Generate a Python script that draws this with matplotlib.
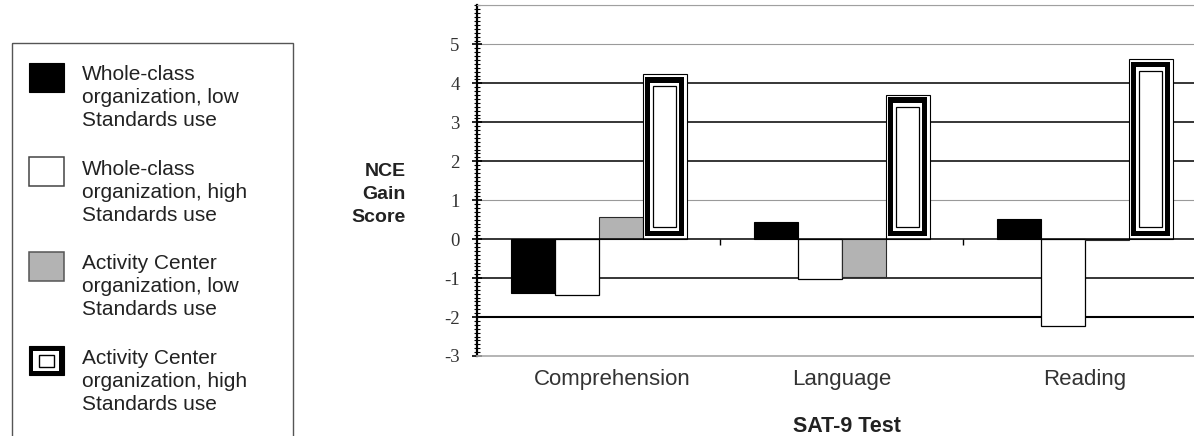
import numpy as np
import matplotlib
matplotlib.use("Agg")
import matplotlib.pyplot as plt
from matplotlib.patches import Rectangle
from matplotlib.transforms import Affine2D
from matplotlib.ticker import MultipleLocator

# ---------------- data ----------------
categories = ["Comprehension", "Language", "Reading"]
series_labels = [
    "Whole-class\norganization, low\nStandards use",
    "Whole-class\norganization, high\nStandards use",
    "Activity Center\norganization, low\nStandards use",
    "Activity Center\norganization, high\nStandards use",
]
wc_low = [-1.38, 0.43, 0.53]
wc_high = [-1.43, -1.03, -2.23]
ac_low = [0.57, -0.97, -0.03]
ac_high = [4.23, 3.71, 4.63]
y_ticks = [-3, -2, -1, 0, 1, 2, 3, 4, 5]
y_tick_labels = ["-3", "-2", "-1", "0", "1", "2", "3", "4", "5"]
grid_dark = [4, 3, 2, -1, -2]
grid_light = [6, 5, 1]

# ---------------- layout ----------------
plt.rcParams["font.family"] = ["Liberation Sans", "DejaVu Sans"]
W, H = 1194, 436
fig = plt.figure(figsize=(W / 100, H / 100), dpi=100)
ax_l, ax_r, ax_t, ax_b = 477, 1194, 5.5, 356
ax = fig.add_axes([ax_l / W, (H - ax_b) / H, (ax_r - ax_l) / W, (ax_b - ax_t) / H])
xlim = (-0.5, 2.45)
ylim = (-3, 6)
ax.set_xlim(*xlim)
ax.set_ylim(*ylim)
px_x = (xlim[1] - xlim[0]) / (ax_r - ax_l)
px_y = (ylim[1] - ylim[0]) / (ax_b - ax_t)

# grid lines
for lv in grid_light:
    ax.axhline(lv, color="#9a9a9a", lw=0.8, zorder=1)
for lv in grid_dark:
    ax.axhline(lv, color="black", lw=1.5 if lv == -2 else 1.1, zorder=1)

# bars
x = np.arange(len(categories))
bw = 0.181
offs = [-1.5, -0.5, 0.5, 1.5]
ax.bar(x + offs[0] * bw, wc_low, bw, color="black", edgecolor="black", lw=0.8, zorder=3)
ax.bar(x + offs[1] * bw, wc_high, bw, color="white", edgecolor="black", lw=0.9, zorder=3)
ax.bar(x + offs[2] * bw, ac_low, bw, color="#b3b3b3", edgecolor="#2a2a2a", lw=0.8, zorder=3)

xa = x + offs[3] * bw
va = np.array(ac_high)


def nested(inset_x, inset_y, z, **kw):
    dx, dy = inset_x * px_x, inset_y * px_y
    ax.bar(xa, va - 2 * dy, bw - 2 * dx, bottom=dy, zorder=z, **kw)


nested(0, 0, 3.0, color="white", edgecolor="black", lw=0.8)
nested(2.3, 2.8, 3.1, color="black", lw=0)
nested(7.5, 8.3, 3.2, color="white", lw=0)
nested(10.5, 12.0, 3.3, color="white", edgecolor="black", lw=0.9)

ax.axhline(0, color="black", lw=1.1, zorder=4)

# spines
ax.spines["right"].set_visible(False)
ax.spines["left"].set_linewidth(1.6)
ax.spines["left"].set_color("black")
ax.spines["top"].set_color("#a0a0a0")
ax.spines["top"].set_linewidth(0.8)
ax.spines["bottom"].set_color("#a8a8a8")
ax.spines["bottom"].set_linewidth(1.2)

# y axis
ax.set_yticks(y_ticks, y_tick_labels, fontfamily="Liberation Serif", fontsize=13.5, color="#333333")
ax.yaxis.set_minor_locator(MultipleLocator(0.1))
ax.tick_params(axis="y", which="major", direction="inout", length=7, width=1.2, pad=9)
ax.tick_params(axis="y", which="minor", direction="inout", length=4, width=0.8)

# x axis labels
label_shift = [0.055, 0.0, 0.0]
ax.set_xticks(x + np.array(label_shift), categories)
ax.tick_params(axis="x", which="both", length=0, pad=9, labelsize=16, labelcolor="#333333")

# category divider ticks on the zero line
sec = ax.secondary_xaxis((0 - ylim[0]) / (ylim[1] - ylim[0]))
sec.set_xticks(x[:-1] + 0.5)
sec.set_xticklabels([])
sec.tick_params(direction="out", length=4.5, width=1.0, color="black")
for s in sec.spines.values():
    s.set_visible(False)

ax.set_ylabel("NCE\nGain\nScore", rotation=0, ha="right", va="center", fontsize=14,
              fontweight="bold", linespacing=1.5, color="#222222")
ax.yaxis.set_label_coords((406 - ax_l) / (ax_r - ax_l), (ax_b - 194.5) / (ax_b - ax_t))
ax.set_xlabel("SAT-9 Test", fontsize=15.5, fontweight="bold", va="baseline", color="#222222")
ax.xaxis.set_label_coords((847 - ax_l) / (ax_r - ax_l), (ax_b - 432) / (ax_b - ax_t))

# ---------------- legend (drawn in figure pixels) ----------------
pix = Affine2D().scale(1 / W, -1 / H).translate(0, 1) + fig.transFigure
fig.add_artist(Rectangle((11.7, 43.3), 281.3, 430, transform=pix, fill=False,
                         edgecolor="#555555", lw=1.0, clip_on=False))

hx, hw, hh = 28.5, 35, 29
for i, lab in enumerate(series_labels):
    top = 62.7 + 94.5 * i
    if i == 0:
        fig.add_artist(Rectangle((hx, top), hw, hh, transform=pix, facecolor="black",
                                 edgecolor="black", lw=0.8))
    elif i == 1:
        fig.add_artist(Rectangle((hx, top), hw, hh, transform=pix, facecolor="white",
                                 edgecolor="#444444", lw=1.1))
    elif i == 2:
        fig.add_artist(Rectangle((hx, top), hw, hh, transform=pix, facecolor="#b3b3b3",
                                 edgecolor="#555555", lw=1.1))
    else:
        fig.add_artist(Rectangle((hx, top), hw, hh, transform=pix, facecolor="black",
                                 edgecolor="black", lw=0.8))
        fig.add_artist(Rectangle((hx + 4.5, top + 4.5), hw - 9, hh - 9, transform=pix,
                                 facecolor="white", lw=0))
        fig.add_artist(Rectangle((hx + 10, top + 9), hw - 20, hh - 17.5, transform=pix,
                                 facecolor="white", edgecolor="black", lw=1.0))
    for j, line in enumerate(lab.split("\n")):
        fig.text(81.5 / W, 1 - (top + 17.5 + 23 * j) / H, line, fontsize=15,
                 color="#222222", ha="left", va="baseline")

fig.savefig("out.png", dpi=100)
